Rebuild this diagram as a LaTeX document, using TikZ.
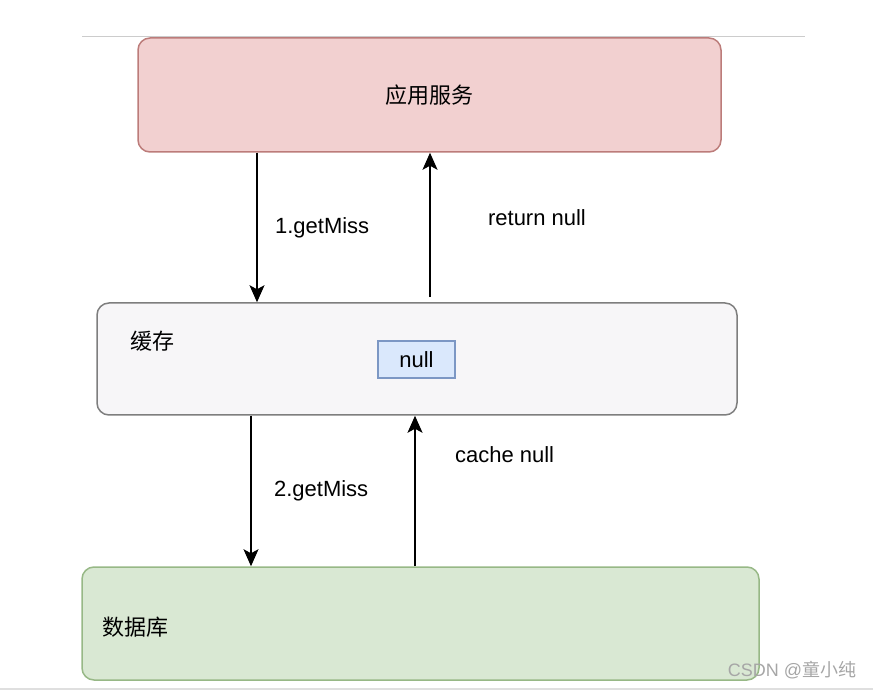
\documentclass[tikz,border=0pt]{standalone}
\usepackage{fontspec}
\setmainfont{Liberation Sans}
\newfontfamily\cjk{Noto Sans CJK SC}
\usetikzlibrary{arrows.meta, positioning}

\definecolor{appfill}{HTML}{F2D0D0}
\definecolor{appline}{HTML}{BC7C7A}
\definecolor{cachefill}{HTML}{F7F6F8}
\definecolor{cacheline}{HTML}{7E7E7E}
\definecolor{dbfill}{HTML}{D9E8D3}
\definecolor{dbline}{HTML}{97B886}
\definecolor{nullfill}{HTML}{DAE8FC}
\definecolor{nullline}{HTML}{7C97C4}

\tikzset{
	layer/.style={rectangle, rounded corners=12pt, line width=1.5pt, inner sep=0pt},
	flow/.style={line width=1.5pt, -{Stealth[length=17pt, width=15pt, inset=4pt]}},
	lbl/.style={font=\fontsize{22}{26}\selectfont}
}

\begin{document}
\begin{tikzpicture}[x=1pt, y=-1pt]
	\useasboundingbox (0,0) rectangle (873,692);

	\draw[gray!40, line width=1pt] (82,37) -- (805,37);
	\draw[gray!25, line width=1.2pt] (0,689) -- (873,689);

	\node[layer, draw=appline, fill=appfill, minimum width=583pt, minimum height=114pt] (app) at (429.5,95) {};
	\node[lbl] (applbl) at (app.center) {\cjk 应用服务};

	\node[layer, draw=cacheline, fill=cachefill, minimum width=640pt, minimum height=112pt] (cache) at (417,359) {};
	\node[lbl] (cachelbl) at (152,341) {\cjk 缓存};
	\node[rectangle, draw=nullline, fill=nullfill, line width=1.2pt, minimum width=77pt, minimum height=37pt, lbl] (null) at (416.5,359.5) {null};

	\node[layer, draw=dbline, fill=dbfill, minimum width=677pt, minimum height=113pt] (db) at (420.5,623.5) {};
	\node[lbl] (dblbl) at (135,627) {\cjk 数据库};

	\draw[flow] (app.south -| 257,0) -- (cache.north -| 257,0) node[midway, right=14pt, lbl] {1.getMiss};
	\draw[flow] ([yshift=5pt]cache.north -| 430,0) -- (app.south -| 430,0) node[pos=0.55, right=54pt, lbl] {return null};

	\draw[flow] (cache.south -| 251,0) -- (db.north -| 251,0) node[midway, right=19pt, lbl] {2.getMiss};
	\draw[flow] (db.north -| 415,0) -- (cache.south -| 415,0) node[pos=0.74, right=36pt, lbl] {cache null};

	\node[text=gray!70, font=\fontsize{18}{20}\selectfont] (mark) at (792,670) {CSDN @{\cjk 童小纯}};
\end{tikzpicture}
\end{document}
